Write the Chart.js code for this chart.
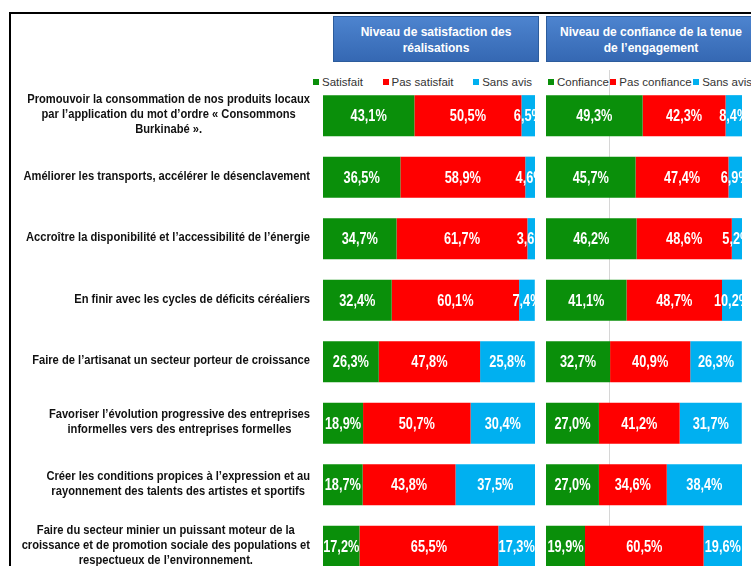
<!DOCTYPE html>
<html lang="fr">
<head>
<meta charset="utf-8">
<title>Satisfaction et confiance</title>
<script src="https://cdn.jsdelivr.net/npm/chart.js"></script>
<style>
  body { margin: 0; width: 751px; height: 566px; overflow: hidden; background: #fff; position: relative; font-family: "Liberation Sans", Arial, sans-serif; }
  .frame-top { position: absolute; left: 9px; top: 12px; width: 742px; height: 2px; background: #000; }
  .frame-left { position: absolute; left: 9px; top: 12px; width: 2px; height: 560px; background: #000; }
  .head { position: absolute; top: 16px; height: 46px; box-sizing: border-box; border: 1px solid #2c5c9c;
          background: linear-gradient(to bottom, #4d84cf, #3568b3); color: #fff; font-weight: bold; font-size: 12px;
          line-height: 16px; text-align: center; padding-top: 7px; }
  .legend { position: absolute; top: 75px; height: 14px; display: flex; justify-content: space-between; font-size: 11.5px; color: #333; white-space: nowrap; }
  .legend span.item { display: flex; align-items: center; }
  .legend i { display: inline-block; width: 6px; height: 6px; margin-right: 3px; }
  .wrap { position: absolute; top: 0; height: 600px; }
</style>
</head>
<body>
<div class="frame-top"></div>
<div class="frame-left"></div>
<div class="head" style="left:333px;width:206px;">Niveau de satisfaction des<br>réalisations</div>
<div class="head" style="left:546px;width:210px;">Niveau de confiance de la tenue<br>de l’engagement</div>
<div class="legend" id="legendLeft" style="left:313px;width:219px;"></div>
<div class="legend" id="legendRight" style="left:548px;width:204px;"></div>
<div class="wrap" style="left:0;width:540px;"><canvas id="chartLeft"></canvas></div>
<div class="wrap" style="left:540px;width:211px;"><canvas id="chartRight"></canvas></div>

<script>
const categories = [
    ["Promouvoir la consommation de nos produits locaux", "par l’application du mot d’ordre « Consommons", "Burkinabé »."],
    ["Améliorer les transports, accélérer le désenclavement"],
    ["Accroître la disponibilité et l’accessibilité de l’énergie"],
    ["En finir avec les cycles de déficits céréaliers"],
    ["Faire de l’artisanat un secteur porteur de croissance"],
    ["Favoriser l’évolution progressive des entreprises", "informelles vers des entreprises formelles"],
    ["Créer les conditions propices à l’expression et au", "rayonnement des talents des artistes et sportifs"],
    ["Faire du secteur minier un puissant moteur de la", "croissance et de promotion sociale des populations et", "respectueux de l’environnement."]
];

const satisfait    = [43.1, 36.5, 34.7, 32.4, 26.3, 18.9, 18.7, 17.2];
const pasSatisfait = [50.5, 58.9, 61.7, 60.1, 47.8, 50.7, 43.8, 65.5];
const sansAvisSat  = [6.5, 4.6, 3.6, 7.4, 25.8, 30.4, 37.5, 17.3];

const confiance    = [49.3, 45.7, 46.2, 41.1, 32.7, 27.0, 27.0, 19.9];
const pasConfiance = [42.3, 47.4, 48.6, 48.7, 40.9, 41.2, 34.6, 60.5];
const sansAvisConf = [8.4, 6.9, 5.2, 10.2, 26.3, 31.7, 38.4, 19.6];

const seriesLeft  = ["Satisfait", "Pas satisfait", "Sans avis"];
const seriesRight = ["Confiance", "Pas confiance", "Sans avis"];
const colors = ["#0a8f0a", "#ff0000", "#00b0f0"];

const FONT = '"Liberation Sans", Arial, sans-serif';

// white percentage labels in the middle of each segment (narrow look)
const valueLabels = {
    id: "valueLabels",
    afterDatasetsDraw(chart, args, opts) {
        const { ctx, chartArea } = chart;
        ctx.save();
        ctx.beginPath();
        ctx.rect(chartArea.left, chartArea.top, chartArea.right - chartArea.left + (opts.overflow || 0), chartArea.bottom - chartArea.top);
        ctx.clip();
        ctx.fillStyle = "#fff";
        ctx.font = "bold 17px " + FONT;
        ctx.textAlign = "center";
        ctx.textBaseline = "middle";
        chart.data.datasets.forEach((ds, di) => {
            chart.getDatasetMeta(di).data.forEach((bar, i) => {
                const cx = (bar.x + bar.base) / 2;
                ctx.save();
                ctx.translate(cx, bar.y + 1);
                ctx.scale(0.75, 1);
                ctx.fillText(ds.data[i].toFixed(1).replace(".", ",") + "%", 0, 0);
                ctx.restore();
            });
        });
        ctx.restore();
    }
};

// category text left of the bars: block right-aligned, lines centred
const categoryLabels = {
    id: "categoryLabels",
    afterDraw(chart) {
        const { ctx } = chart;
        const yScale = chart.scales.y;
        const right = chart.chartArea.left - 13;
        const sx = 0.93;
        ctx.save();
        ctx.font = "bold 12px " + FONT;
        ctx.fillStyle = "#111";
        ctx.textAlign = "center";
        ctx.textBaseline = "middle";
        chart.data.labels.forEach((lines, i) => {
            const widest = Math.max(...lines.map(l => ctx.measureText(l).width)) * sx;
            const cx = right - widest / 2;
            const cy = yScale.getPixelForValue(i) - 1;
            lines.forEach((line, k) => {
                ctx.save();
                ctx.translate(cx, cy + (k - (lines.length - 1) / 2) * 15);
                ctx.scale(sx, 1);
                ctx.fillText(line, 0, 0);
                ctx.restore();
            });
        });
        ctx.restore();
    }
};

// thin grey vertical rule seen in the right panel
const guideLine = {
    id: "guideLine",
    beforeDatasetsDraw(chart, args, opts) {
        if (opts.at == null) return;
        const { ctx, chartArea } = chart;
        const x = Math.round(chart.scales.x.getPixelForValue(opts.at)) + 0.5;
        ctx.save();
        ctx.strokeStyle = "#d6d6d6";
        ctx.lineWidth = 1;
        ctx.beginPath();
        ctx.moveTo(x, 70);
        ctx.lineTo(x, chartArea.bottom);
        ctx.stroke();
        ctx.restore();
    }
};

function makeChart(id, names, values, padding, extra) {
    return new Chart(document.getElementById(id), {
        type: "bar",
        data: {
            labels: categories,
            datasets: names.map((n, k) => ({
                label: n,
                data: values[k],
                backgroundColor: colors[k],
                borderWidth: 0,
                barPercentage: 0.67,
                categoryPercentage: 1
            }))
        },
        options: {
            indexAxis: "y",
            responsive: true,
            maintainAspectRatio: false,
            animation: false,
            layout: { padding: padding },
            scales: {
                x: { stacked: true, min: 0, max: 100, display: false },
                y: { stacked: true, display: false }
            },
            plugins: {
                legend: { display: false },
                tooltip: { enabled: false },
                valueLabels: { overflow: extra.overflow },
                guideLine: { at: extra.guide }
            }
        },
        plugins: extra.plugins
    });
}

function buildLegend(elId, names) {
    const el = document.getElementById(elId);
    names.forEach((n, k) => {
        const item = document.createElement("span");
        item.className = "item";
        item.innerHTML = `<i style="background:${colors[k]}"></i>${n}`;
        el.appendChild(item);
    });
}

buildLegend("legendLeft", seriesLeft);
buildLegend("legendRight", seriesRight);

makeChart("chartLeft", seriesLeft, [satisfait, pasSatisfait, sansAvisSat],
    { left: 323, right: 5, top: 85, bottom: 23 },
    { overflow: 0, guide: null, plugins: [valueLabels, categoryLabels, guideLine] });

makeChart("chartRight", seriesRight, [confiance, pasConfiance, sansAvisConf],
    { left: 6, right: 9, top: 85, bottom: 23 },
    { overflow: 3, guide: 32.1, plugins: [valueLabels, guideLine] });
</script>
</body>
</html>
